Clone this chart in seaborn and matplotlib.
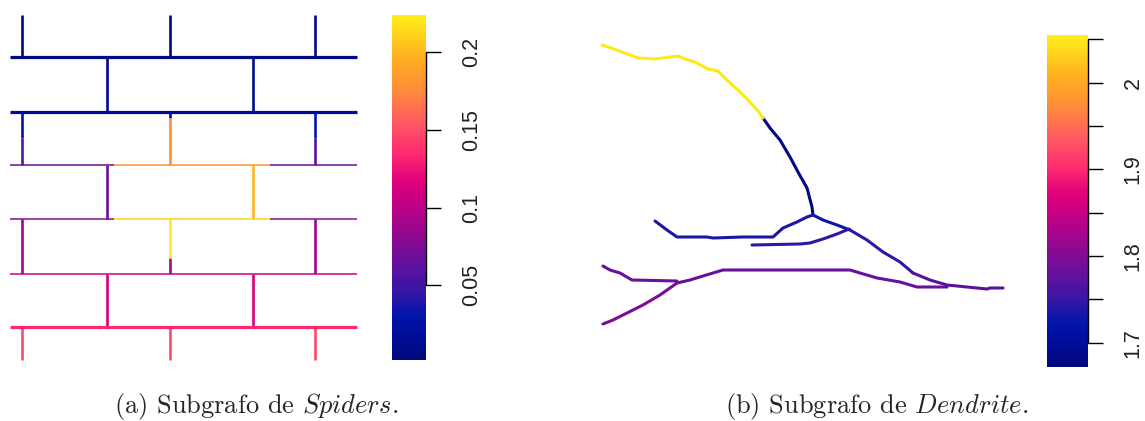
import numpy as np
import pandas as pd
import matplotlib
matplotlib.use("Agg")
import matplotlib.pyplot as plt
import matplotlib.colors as mcolors
import matplotlib.transforms as mtrans
import seaborn as sns

# ---------------- data ----------------
# Spiders subgraph: edges (graph coordinates) and their values
sp_x0 = [10, 10, 10, 114, 270, 10, 114, 270, 10, 10,
         22, 170, 315, 107, 253,
         22, 22, 170, 170, 315, 315,
         107, 253,
         22, 170, 170, 315,
         107, 253,
         22, 170, 315]
sp_y0 = [57, 112, 165, 165, 165, 219, 219, 219, 274, 327,
         15, 15, 15, 57, 57,
         112, 138, 112, 118, 112, 138,
         165, 165,
         219, 219, 258, 219,
         274, 274,
         327, 327, 327]
sp_x1 = [357, 357, 114, 270, 357, 114, 270, 357, 357, 357,
         22, 170, 315, 107, 253,
         22, 22, 170, 170, 315, 315,
         107, 253,
         22, 170, 170, 315,
         107, 253,
         22, 170, 315]
sp_y1 = [57, 112, 165, 165, 165, 219, 219, 219, 274, 327,
         57, 57, 57, 112, 112,
         138, 165, 118, 165, 138, 165,
         219, 219,
         274, 258, 274, 274,
         327, 327,
         360, 360, 360]
sp_val = [0.008, 0.02, 0.065, 0.18, 0.065, 0.08, 0.212, 0.08, 0.108, 0.135,
          0.008, 0.008, 0.008, 0.012, 0.014,
          0.03, 0.058, 0.02, 0.178, 0.03, 0.058,
          0.068, 0.2,
          0.088, 0.222, 0.092, 0.088,
          0.112, 0.115,
          0.148, 0.148, 0.148]
sp_range = (0.002, 0.224)
sp_ticks = [0.05, 0.1, 0.15, 0.2]
sp_ticklabels = ["0.05", "0.1", "0.15", "0.2"]

# Dendrite subgraph: branches (traced coordinates) and their values
den_x = [
    [602, 608, 622, 638, 655, 678, 685, 695, 708, 718, 728, 738, 748, 758, 763],
    [763, 770, 780, 790, 798, 807, 812, 813],
    [813, 807, 797, 783, 773, 743, 713, 707, 677, 667, 655],
    [813, 823, 837, 850],
    [849, 837, 823, 810, 800, 752],
    [850, 867, 883, 900, 913],
    [913, 930, 947, 967, 987, 990, 1003],
    [603, 610, 620, 632, 677],
    [603, 613, 627, 643, 660, 677],
    [677, 690, 703, 713, 723, 820, 850, 860, 877, 900, 917, 947],
]
den_y = [
    [45, 47, 52, 58, 59, 56, 59, 62, 69, 71, 81, 90, 100, 111, 118],
    [118, 128, 140, 157, 172, 188, 207, 215],
    [215, 217, 222, 228, 237, 237, 238, 237, 237, 230, 221],
    [215, 220, 225, 230],
    [229, 234, 239, 243, 244, 245],
    [230, 240, 252, 262, 273],
    [273, 280, 285, 287, 289, 288, 288],
    [266, 270, 273, 280, 281],
    [324, 320, 313, 305, 295, 283],
    [283, 280, 276, 273, 270, 270, 270, 273, 278, 282, 287, 287],
]
den_val = [2.05, 1.68, 1.735, 1.728, 1.748, 1.745, 1.772, 1.785, 1.795, 1.782]
den_range = (1.672, 2.055)
den_ticks = [1.7, 1.75, 1.8, 1.85, 1.9, 1.95, 2.0, 2.05]
den_ticklabels = ["1.7", "", "1.8", "", "1.9", "", "2", ""]

captions = [r"(a) Subgrafo de $Spiders$.", r"(b) Subgrafo de $Dendrite$."]

# ---------------- style ----------------
sns.set_theme(style="white")
plt.rcParams["font.family"] = ["Liberation Sans", "DejaVu Sans"]
plt.rcParams["mathtext.fontset"] = "cm"

cmap = mcolors.LinearSegmentedColormap.from_list("plasma_like", [
    (0.00, "#00087A"), (0.08, "#000E9C"), (0.13, "#0016AA"),
    (0.19, "#3016A6"), (0.26, "#5A12A0"), (0.35, "#8A0A92"),
    (0.45, "#C00085"), (0.52, "#E0007A"), (0.60, "#FF2A70"),
    (0.70, "#FF6060"), (0.78, "#FF8A3A"), (0.88, "#FFB020"),
    (1.00, "#FFEF1A")])

W, H = 1145, 421
fig = plt.figure(figsize=(W / 100, H / 100), dpi=100)


def px_axes(x0, y0, x1, y1):
    return fig.add_axes([x0 / W, 1 - y1 / H, (x1 - x0) / W, (y1 - y0) / H])


# ---------------- left: spiders ----------------
norm_sp = mcolors.Normalize(*sp_range)
rows = []
for i, (a, b, c, d, v) in enumerate(zip(sp_x0, sp_y0, sp_x1, sp_y1, sp_val)):
    if b == d:
        kind = "thick" if b in (57, 112, 327) else "thin"
    else:
        kind = "vert"
    rows.append(dict(seg=i, x=a, y=b, val=v, kind=kind))
    rows.append(dict(seg=i, x=c, y=d, val=v, kind=kind))
sp_df = pd.DataFrame(rows)

ax1 = px_axes(10, 15, 357, 360)
widths = {"vert": 1.9, "thin": 1.1, "thick": 2.3}
for kind in ["vert", "thin", "thick"]:
    sub = sp_df[sp_df.kind == kind]
    sns.lineplot(data=sub, x="x", y="y", hue="val", units="seg",
                 estimator=None, sort=False, palette=cmap, hue_norm=norm_sp,
                 legend=False, lw=widths[kind], ax=ax1)
ax1.set_xlim(10, 357)
ax1.set_ylim(360, 15)
ax1.axis("off")
for ln in ax1.lines:
    ln.set_clip_on(False)
    ln.set_solid_capstyle("butt")

# ---------------- right: dendrite ----------------
norm_den = mcolors.Normalize(*den_range)
rows = []
for i, (xs, ys, v) in enumerate(zip(den_x, den_y, den_val)):
    for k, (x, y) in enumerate(zip(xs, ys)):
        rows.append(dict(branch=i, order=k, x=x, y=y, val=v))
den_df = pd.DataFrame(rows)

ax2 = px_axes(602, 45, 1003, 324)
sns.lineplot(data=den_df, x="x", y="y", hue="val", units="branch",
             estimator=None, sort=False, palette=cmap, hue_norm=norm_den,
             legend=False, lw=2.2, ax=ax2)
ax2.set_xlim(602, 1003)
ax2.set_ylim(324, 45)
ax2.axis("off")
for ln in ax2.lines:
    ln.set_clip_on(False)


# ---------------- colorbars ----------------
def colorbar(box, norm, ticks, labels):
    cax = px_axes(*box)
    sm = matplotlib.cm.ScalarMappable(norm=norm, cmap=cmap)
    cb = fig.colorbar(sm, cax=cax)
    cb.outline.set_visible(False)
    cb.set_ticks(ticks)
    cb.set_ticklabels(labels)
    cax.tick_params(axis="y", length=11, width=1.0, pad=14, labelsize=15.5,
                    direction="out", color="black", labelcolor="#222222")
    for t in cax.get_yticklabels():
        t.set_rotation(90)
        t.set_va("center")
        t.set_ha("left")
    tr = mtrans.blended_transform_factory(cax.transAxes, cax.transData)
    cax.plot([1, 1], [ticks[0], ticks[-1]], color="black", lw=1.0,
             transform=tr, clip_on=False)
    return cb


colorbar((392, 15, 426, 360), norm_sp, sp_ticks, sp_ticklabels)
colorbar((1047, 35, 1088, 367), norm_den, den_ticks, den_ticklabels)

# ---------------- captions ----------------
for cx, txt in zip([256, 877], captions):
    fig.text(cx / W, 1 - 406 / H, txt, ha="center", va="center",
             fontsize=19, family="cmr10")

fig.savefig("out.png", dpi=100)
